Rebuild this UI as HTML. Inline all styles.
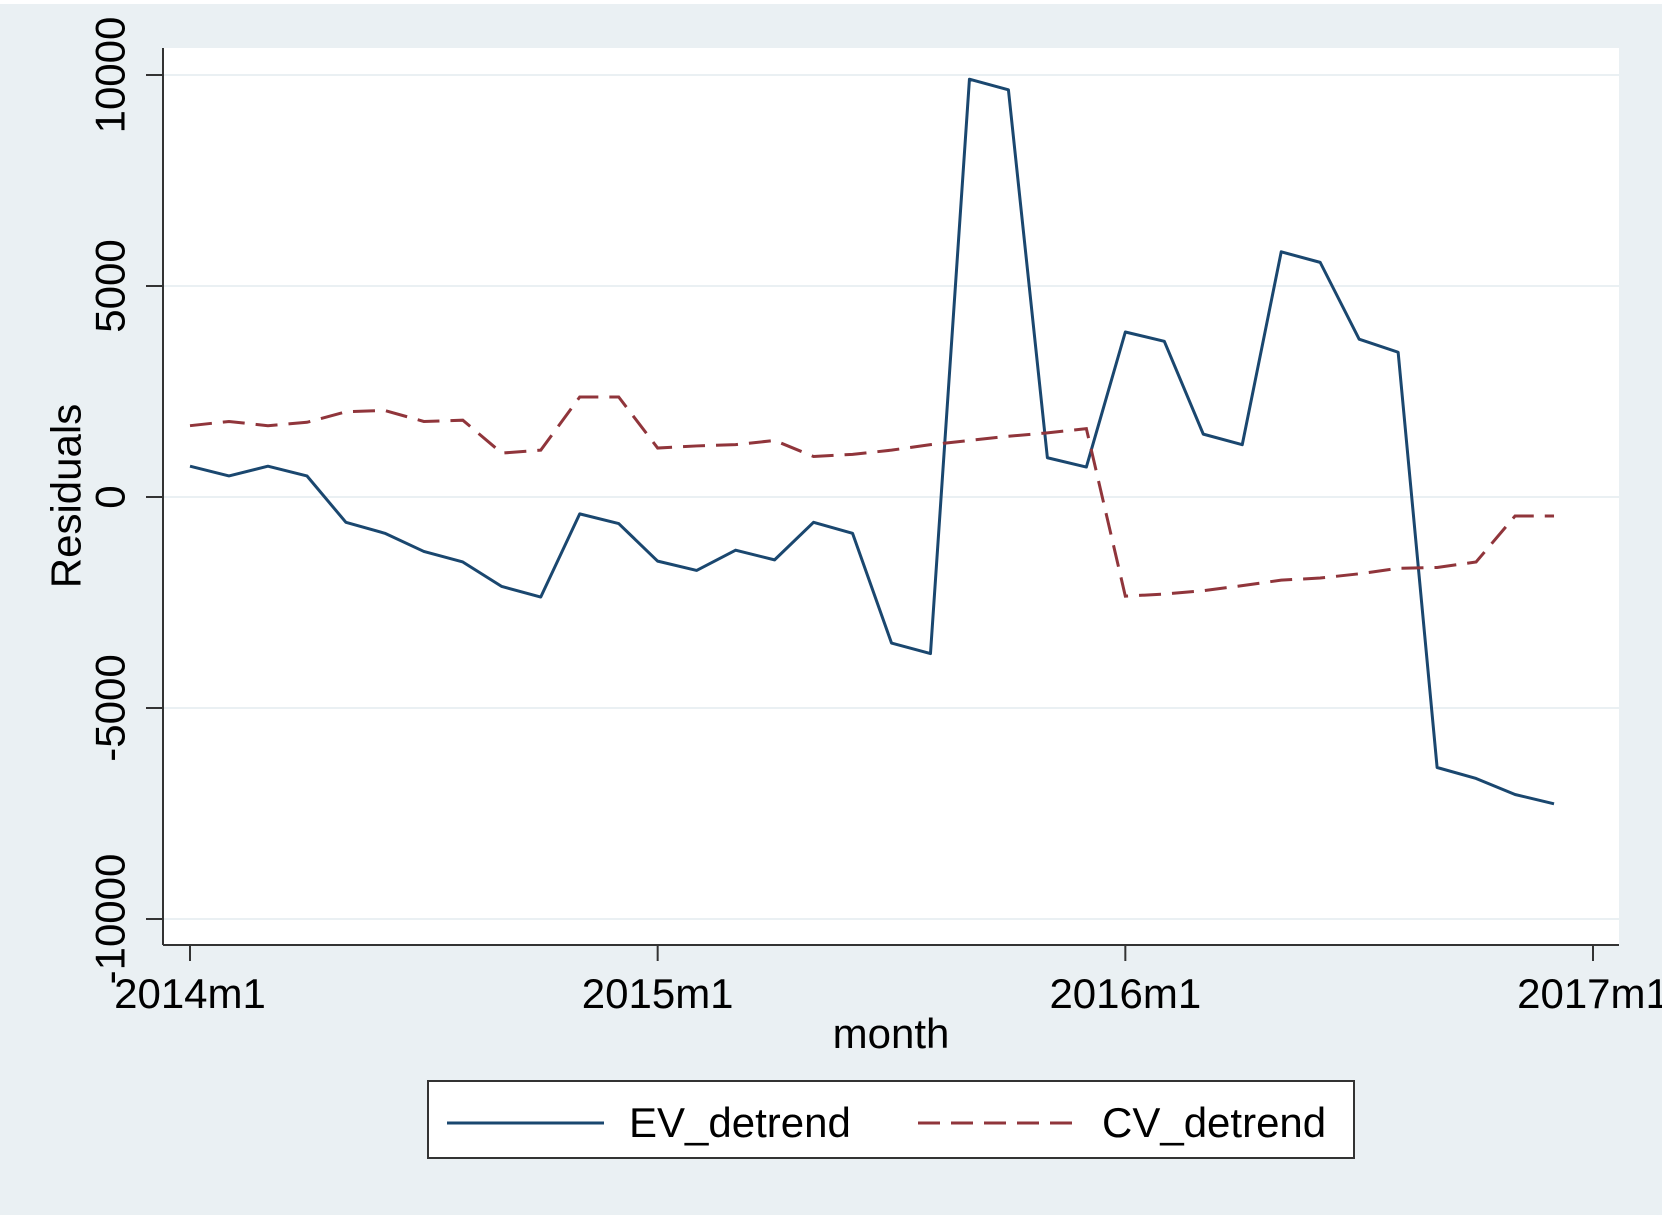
<!DOCTYPE html>
<html><head><meta charset="utf-8"><style>
html,body{margin:0;padding:0;background:#fff;}
svg{display:block;font-family:"Liberation Sans",Arial,sans-serif;}
</style></head><body>
<svg id="chart" width="1662" height="1222" viewBox="0 0 1662 1222">
<rect x="0" y="4" width="1662" height="1211" fill="#eaf0f3"/>
<rect x="163" y="48" width="1456" height="897" fill="#ffffff"/>
<g id="grid"></g>
<g id="yticks"></g>
<g id="xticks"></g>
<g id="series"></g>
<line x1="163" y1="945" x2="1619" y2="945" stroke="#333" stroke-width="2"/>
<line x1="163" y1="48" x2="163" y2="945" stroke="#333" stroke-width="2"/>
<text x="66" y="496" font-size="42" text-anchor="middle" dominant-baseline="central" transform="rotate(-90 66 496)" fill="#000">Residuals</text>
<text x="891" y="1048" font-size="42" text-anchor="middle" fill="#000">month</text>
<g>
<rect x="428" y="1081" width="926" height="77" fill="#fff" stroke="#333" stroke-width="2"/>
<line x1="447" y1="1123" x2="604" y2="1123" stroke="#1a476f" stroke-width="3"/>
<text x="629" y="1137" font-size="42" fill="#000">EV_detrend</text>
<line x1="918" y1="1123" x2="1077" y2="1123" stroke="#90353b" stroke-width="3" stroke-dasharray="22 11"/>
<text x="1102" y="1137" font-size="42" fill="#000">CV_detrend</text>
</g>
</svg>
<script>
const months = Array.from({length:36},(_, i)=>i);
const evValues = [730,500,730,500,-600,-860,-1290,-1540,-2120,-2370,-400,-630,-1520,-1740,-1260,-1490,-600,-860,-3460,-3710,9900,9650,930,710,3910,3690,1490,1240,5810,5560,3740,3430,-6410,-6670,-7050,-7270];
const cvValues = [1690,1790,1690,1770,2020,2050,1790,1820,1040,1110,2370,2370,1160,1210,1240,1340,960,1010,1110,1240,1340,1440,1520,1620,-2350,-2300,-2220,-2100,-1970,-1920,-1820,-1690,-1670,-1540,-450,-450];
const yTicks = [-10000,-5000,0,5000,10000];
const yTickLabels = ["-10000","-5000","0","5000","10000"];
const xTicks = [0,12,24,36];
const xTickLabels = ["2014m1","2015m1","2016m1","2017m1"];

const NS="http://www.w3.org/2000/svg";
function xS(m){return 190 + m*(1593-190)/36;}
function yS(v){return 497 - v*(211/5000);}
function mk(tag,attrs,parent){const e=document.createElementNS(NS,tag);for(const k in attrs)e.setAttribute(k,attrs[k]);parent.appendChild(e);return e;}

const grid=document.getElementById('grid'), yt=document.getElementById('yticks'), xt=document.getElementById('xticks'), ser=document.getElementById('series');
yTicks.forEach((v,i)=>{
  const y=yS(v);
  const g=mk('line',{x1:164,x2:1619,y1:y,y2:y,stroke:'#eaf0f3','stroke-width':2},grid);
  
  
  const t=mk('line',{x1:146,x2:163,y1:y,y2:y,stroke:'#333','stroke-width':2},yt);
  
  
  const lb=mk('text',{x:110,y:y,'font-size':42,'text-anchor':'middle','dominant-baseline':'central',transform:`rotate(-90 110 ${y})`,fill:'#000'},yt);
  lb.textContent=yTickLabels[i];
  
  
});
xTicks.forEach((m,i)=>{
  const x=xS(m);
  const t=mk('line',{x1:x,x2:x,y1:945,y2:961,stroke:'#333','stroke-width':2},xt);
  
  
  const lb=mk('text',{x:x,y:1008,'font-size':42,'text-anchor':'middle',fill:'#000'},xt);
  lb.textContent=xTickLabels[i];
  
  
});
const evPts=months.map((m,i)=>xS(m)+','+yS(evValues[i])).join(' ');
const ev=mk('polyline',{points:evPts,fill:'none',stroke:'#1a476f','stroke-width':3,'stroke-linejoin':'round'},ser);


const cvPts=months.map((m,i)=>xS(m)+','+yS(cvValues[i])).join(' ');
const cv=mk('polyline',{points:cvPts,fill:'none',stroke:'#90353b','stroke-width':3,'stroke-dasharray':'22 11'},ser);


</script>
</body></html>
